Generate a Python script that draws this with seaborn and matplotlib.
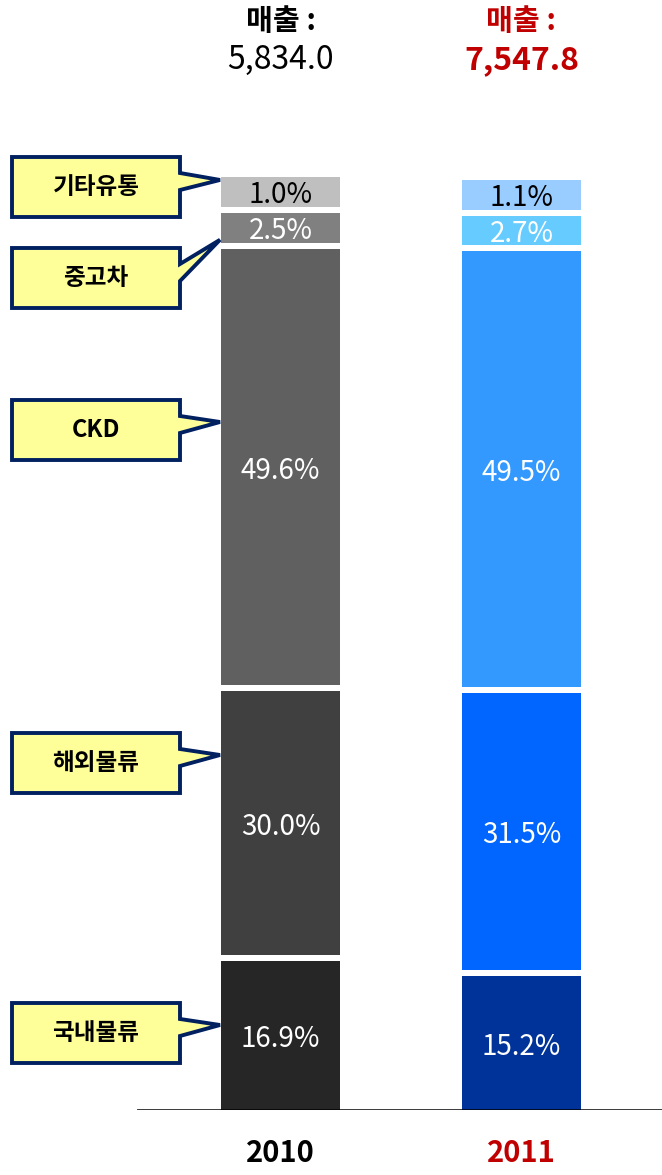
import numpy as np
import pandas as pd
import matplotlib
matplotlib.use("Agg")
import matplotlib.pyplot as plt
import seaborn as sns
from matplotlib.patches import Polygon
from matplotlib.transforms import Affine2D

# ---- data ----
years = ["2010", "2011"]
segments = ["국내물류", "해외물류", "CKD", "중고차", "기타유통"]
share_2010 = [16.9, 30.0, 49.6, 2.5, 1.0]
share_2011 = [15.2, 31.5, 49.5, 2.7, 1.1]
sales_labels = ["5,834.0", "7,547.8"]
colors_2010 = ["#262626", "#404040", "#606060", "#808080", "#BFBFBF"]
colors_2011 = ["#003399", "#0066FF", "#3399FF", "#66CCFF", "#99CCFF"]
label_colors = ["white", "white", "white", "white", "black"]

RED = "#C00000"
NAVY = "#002060"
CALLOUT_FILL = "#FFFF99"

sns.set_theme(style="white")
plt.rcParams["font.family"] = ["Noto Sans CJK KR", "DejaVu Sans"]

W, H = 662, 1175
fig = plt.figure(figsize=(W / 100, H / 100), dpi=100)
base_px, top_px, left_px = 1110, 90, 137
ax = fig.add_axes([left_px / W, (H - base_px) / H, (W - left_px) / W, (base_px - top_px) / H])

px_per_unit = 8.8
spacing = 241.0
bar_width = 119 / spacing
gap = 6 / px_per_unit
min_visible = 3.4

shares = [share_2010, share_2011]
palettes = [colors_2010, colors_2011]
stack_info = []
for i, yr in enumerate(years):
    bottom = 0.0
    info = []
    for v, c in zip(shares[i], palettes[i]):
        h = max(v, min_visible)
        sns.barplot(x=[yr], y=[h], order=years, bottom=bottom, color=c,
                    width=bar_width, saturation=1, linewidth=0, errorbar=None, ax=ax)
        info.append((bottom, h, v))
        bottom += h + gap
    stack_info.append(info)

ax.set_ylim(0, (base_px - top_px) / px_per_unit)
ax.set_xlim(-(280.5 - left_px) / spacing, 1 + (W - 521.5) / spacing)
for s in ax.spines.values():
    s.set_visible(False)
ax.set_yticks([])
ax.set_xlabel("")
ax.set_ylabel("")
ax.axhline(0, color="black", lw=1.8, zorder=5)

# percent labels
for i, info in enumerate(stack_info):
    for (b, h, v), lc in zip(info, label_colors):
        ax.text(i, b + h / 2, f"{v:.1f}%", ha="center", va="center_baseline",
                color=lc, fontsize=20)

# year tick labels
ax.set_xticks([0, 1])
ax.set_xticklabels(years, fontsize=21, fontweight="bold")
ax.tick_params(axis="x", length=0, pad=20)
for lbl, col in zip(ax.get_xticklabels(), ["black", RED]):
    lbl.set_color(col)

# headers
for i, (sl, col) in enumerate(zip(sales_labels, ["black", RED])):
    xpix = ax.transData.transform((i, 0))[0]
    fig.text(xpix / W, 1 - 21 / H, "매출 :", ha="center", va="center",
             fontsize=21, fontweight="bold", color=col)
    fig.text(xpix / W, 1 - 60 / H, sl, ha="center", va="center",
             fontsize=23, fontweight="bold" if i == 1 else "medium", color=col)

# callouts (layout in pixel coords from top-left)
pix = Affine2D().scale(1, -1).translate(0, H)
box_x0, box_x1, box_h = 12, 180, 60
box_centers = [1033, 763, 430, 278, 187]
tip_x = ax.transData.transform((-bar_width / 2, 0))[0] - 1
for (b, h, v), name, cy in zip(stack_info[0], segments, box_centers):
    seg_top = H - ax.transData.transform((0, b + h))[1]
    seg_bot = H - ax.transData.transform((0, b))[1]
    ty = min(max(cy - 8, seg_top + 3), seg_bot - 3)
    y0, y1 = cy - box_h / 2, cy + box_h / 2
    verts = [(box_x0, y0), (box_x1, y0), (box_x1, cy - 14), (tip_x, ty),
             (box_x1, cy + 3), (box_x1, y1), (box_x0, y1)]
    poly = Polygon(verts, closed=True, facecolor=CALLOUT_FILL, edgecolor=NAVY,
                   linewidth=2.8, joinstyle="miter", transform=pix)
    fig.add_artist(poly)
    fig.text((box_x0 + box_x1) / 2 / W, 1 - cy / H, name, ha="center", va="center",
             fontsize=17, fontweight="bold", color="black")

fig.savefig("out.png", dpi=100)
